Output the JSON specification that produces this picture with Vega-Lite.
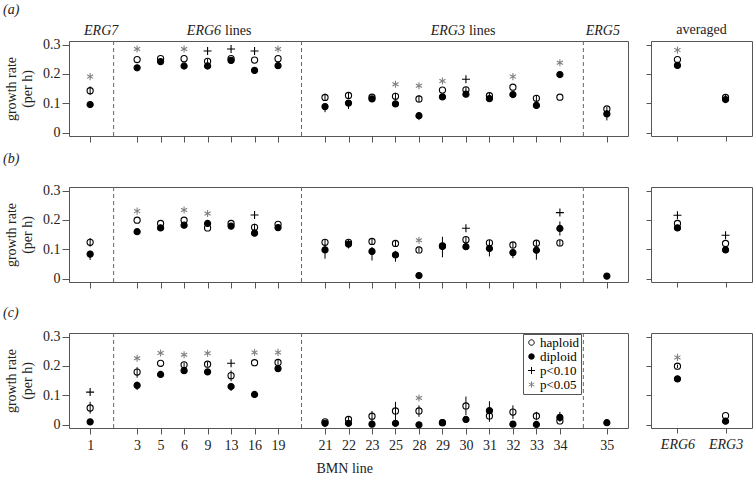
{
  "$schema": "https://vega.github.io/schema/vega-lite/v6.json",
  "padding": {"left": 2, "top": 2, "right": 0, "bottom": 0},
  "background": "white",
  "datasets": {
    "gaps": [{"line": "g1"}, {"line": "g2"}, {"line": "g3"}],
    "pts": [
      {"p":"a","line":"1","kind":"haploid","v":0.143,"lo":0.128,"hi":0.158},
      {"p":"a","line":"1","kind":"diploid","v":0.096},
      {"p":"a","line":"1","kind":"p<0.05","v":0.191},
      {"p":"a","line":"3","kind":"haploid","v":0.249},
      {"p":"a","line":"3","kind":"diploid","v":0.221},
      {"p":"a","line":"3","kind":"p<0.05","v":0.285},
      {"p":"a","line":"5","kind":"haploid","v":0.252},
      {"p":"a","line":"5","kind":"diploid","v":0.242},
      {"p":"a","line":"6","kind":"haploid","v":0.252},
      {"p":"a","line":"6","kind":"diploid","v":0.227},
      {"p":"a","line":"6","kind":"p<0.05","v":0.285},
      {"p":"a","line":"9","kind":"haploid","v":0.243,"lo":0.234,"hi":0.252},
      {"p":"a","line":"9","kind":"diploid","v":0.227},
      {"p":"a","line":"9","kind":"p<0.10","v":0.278},
      {"p":"a","line":"13","kind":"haploid","v":0.252},
      {"p":"a","line":"13","kind":"diploid","v":0.246},
      {"p":"a","line":"13","kind":"p<0.10","v":0.285},
      {"p":"a","line":"16","kind":"haploid","v":0.247},
      {"p":"a","line":"16","kind":"diploid","v":0.212,"lo":0.2,"hi":0.22},
      {"p":"a","line":"16","kind":"p<0.10","v":0.278},
      {"p":"a","line":"19","kind":"haploid","v":0.252},
      {"p":"a","line":"19","kind":"diploid","v":0.228},
      {"p":"a","line":"19","kind":"p<0.05","v":0.285},
      {"p":"a","line":"21","kind":"haploid","v":0.12,"lo":0.108,"hi":0.133},
      {"p":"a","line":"21","kind":"diploid","v":0.089,"lo":0.07,"hi":0.1},
      {"p":"a","line":"22","kind":"haploid","v":0.127,"lo":0.117,"hi":0.137},
      {"p":"a","line":"22","kind":"diploid","v":0.101,"lo":0.081,"hi":0.11},
      {"p":"a","line":"23","kind":"haploid","v":0.121},
      {"p":"a","line":"23","kind":"diploid","v":0.115},
      {"p":"a","line":"25","kind":"haploid","v":0.124,"lo":0.112,"hi":0.136},
      {"p":"a","line":"25","kind":"diploid","v":0.098},
      {"p":"a","line":"25","kind":"p<0.05","v":0.165},
      {"p":"a","line":"28","kind":"haploid","v":0.115,"lo":0.103,"hi":0.127},
      {"p":"a","line":"28","kind":"diploid","v":0.058,"lo":0.043,"hi":0.068},
      {"p":"a","line":"28","kind":"p<0.05","v":0.16},
      {"p":"a","line":"29","kind":"haploid","v":0.145},
      {"p":"a","line":"29","kind":"diploid","v":0.122},
      {"p":"a","line":"29","kind":"p<0.05","v":0.176},
      {"p":"a","line":"30","kind":"haploid","v":0.146,"lo":0.136,"hi":0.156},
      {"p":"a","line":"30","kind":"diploid","v":0.131},
      {"p":"a","line":"30","kind":"p<0.10","v":0.182},
      {"p":"a","line":"31","kind":"haploid","v":0.126,"lo":0.117,"hi":0.135},
      {"p":"a","line":"31","kind":"diploid","v":0.116},
      {"p":"a","line":"32","kind":"haploid","v":0.155},
      {"p":"a","line":"32","kind":"diploid","v":0.13},
      {"p":"a","line":"32","kind":"p<0.05","v":0.191},
      {"p":"a","line":"33","kind":"haploid","v":0.117,"lo":0.107,"hi":0.128},
      {"p":"a","line":"33","kind":"diploid","v":0.093},
      {"p":"a","line":"34","kind":"haploid","v":0.121},
      {"p":"a","line":"34","kind":"diploid","v":0.198},
      {"p":"a","line":"34","kind":"p<0.05","v":0.238},
      {"p":"a","line":"35","kind":"haploid","v":0.081,"lo":0.072,"hi":0.088},
      {"p":"a","line":"35","kind":"diploid","v":0.064,"lo":0.042,"hi":0.075},
      {"p":"a","line":"ERG6","kind":"haploid","v":0.249},
      {"p":"a","line":"ERG6","kind":"diploid","v":0.229},
      {"p":"a","line":"ERG6","kind":"p<0.05","v":0.281},
      {"p":"a","line":"ERG3","kind":"haploid","v":0.12,"lo":0.11,"hi":0.13},
      {"p":"a","line":"ERG3","kind":"diploid","v":0.113},

      {"p":"b","line":"1","kind":"haploid","v":0.124,"lo":0.109,"hi":0.139},
      {"p":"b","line":"1","kind":"diploid","v":0.084,"lo":0.064,"hi":0.095},
      {"p":"b","line":"3","kind":"haploid","v":0.199},
      {"p":"b","line":"3","kind":"diploid","v":0.16},
      {"p":"b","line":"3","kind":"p<0.05","v":0.23},
      {"p":"b","line":"5","kind":"haploid","v":0.188},
      {"p":"b","line":"5","kind":"diploid","v":0.173},
      {"p":"b","line":"6","kind":"haploid","v":0.199},
      {"p":"b","line":"6","kind":"diploid","v":0.182},
      {"p":"b","line":"6","kind":"p<0.05","v":0.234},
      {"p":"b","line":"9","kind":"haploid","v":0.173},
      {"p":"b","line":"9","kind":"diploid","v":0.188},
      {"p":"b","line":"9","kind":"p<0.05","v":0.222},
      {"p":"b","line":"13","kind":"haploid","v":0.188},
      {"p":"b","line":"13","kind":"diploid","v":0.179},
      {"p":"b","line":"16","kind":"haploid","v":0.175,"lo":0.163,"hi":0.187},
      {"p":"b","line":"16","kind":"diploid","v":0.155},
      {"p":"b","line":"16","kind":"p<0.10","v":0.217},
      {"p":"b","line":"19","kind":"haploid","v":0.185},
      {"p":"b","line":"19","kind":"diploid","v":0.174},
      {"p":"b","line":"21","kind":"haploid","v":0.124,"lo":0.114,"hi":0.134},
      {"p":"b","line":"21","kind":"diploid","v":0.098,"lo":0.068,"hi":0.112},
      {"p":"b","line":"22","kind":"haploid","v":0.124},
      {"p":"b","line":"22","kind":"diploid","v":0.118,"lo":0.103,"hi":0.133},
      {"p":"b","line":"23","kind":"haploid","v":0.127,"lo":0.117,"hi":0.137},
      {"p":"b","line":"23","kind":"diploid","v":0.093,"lo":0.062,"hi":0.108},
      {"p":"b","line":"25","kind":"haploid","v":0.12,"lo":0.11,"hi":0.13},
      {"p":"b","line":"25","kind":"diploid","v":0.081,"lo":0.058,"hi":0.095},
      {"p":"b","line":"28","kind":"haploid","v":0.098,"lo":0.09,"hi":0.106},
      {"p":"b","line":"28","kind":"diploid","v":0.011},
      {"p":"b","line":"28","kind":"p<0.05","v":0.131},
      {"p":"b","line":"29","kind":"haploid","v":0.112},
      {"p":"b","line":"29","kind":"diploid","v":0.11,"lo":0.073,"hi":0.143},
      {"p":"b","line":"30","kind":"haploid","v":0.133,"lo":0.123,"hi":0.143},
      {"p":"b","line":"30","kind":"diploid","v":0.109},
      {"p":"b","line":"30","kind":"p<0.10","v":0.172},
      {"p":"b","line":"31","kind":"haploid","v":0.122,"lo":0.112,"hi":0.132},
      {"p":"b","line":"31","kind":"diploid","v":0.103,"lo":0.076,"hi":0.117},
      {"p":"b","line":"32","kind":"haploid","v":0.115,"lo":0.105,"hi":0.125},
      {"p":"b","line":"32","kind":"diploid","v":0.089,"lo":0.07,"hi":0.103},
      {"p":"b","line":"33","kind":"haploid","v":0.121,"lo":0.111,"hi":0.131},
      {"p":"b","line":"33","kind":"diploid","v":0.097,"lo":0.065,"hi":0.112},
      {"p":"b","line":"34","kind":"haploid","v":0.122,"lo":0.112,"hi":0.132},
      {"p":"b","line":"34","kind":"diploid","v":0.171,"lo":0.147,"hi":0.195},
      {"p":"b","line":"34","kind":"p<0.10","v":0.225},
      {"p":"b","line":"35","kind":"diploid","v":0.009},
      {"p":"b","line":"ERG6","kind":"haploid","v":0.188},
      {"p":"b","line":"ERG6","kind":"diploid","v":0.173},
      {"p":"b","line":"ERG6","kind":"p<0.10","v":0.216},
      {"p":"b","line":"ERG3","kind":"haploid","v":0.12},
      {"p":"b","line":"ERG3","kind":"diploid","v":0.098},
      {"p":"b","line":"ERG3","kind":"p<0.10","v":0.148},

      {"p":"c","line":"1","kind":"haploid","v":0.057,"lo":0.038,"hi":0.078},
      {"p":"c","line":"1","kind":"diploid","v":0.01},
      {"p":"c","line":"1","kind":"p<0.10","v":0.111},
      {"p":"c","line":"3","kind":"haploid","v":0.179,"lo":0.16,"hi":0.196},
      {"p":"c","line":"3","kind":"diploid","v":0.134,"lo":0.118,"hi":0.147},
      {"p":"c","line":"3","kind":"p<0.05","v":0.226},
      {"p":"c","line":"5","kind":"haploid","v":0.209},
      {"p":"c","line":"5","kind":"diploid","v":0.171},
      {"p":"c","line":"5","kind":"p<0.05","v":0.244},
      {"p":"c","line":"6","kind":"haploid","v":0.204,"lo":0.196,"hi":0.212},
      {"p":"c","line":"6","kind":"diploid","v":0.184},
      {"p":"c","line":"6","kind":"p<0.05","v":0.238},
      {"p":"c","line":"9","kind":"haploid","v":0.206,"lo":0.198,"hi":0.214},
      {"p":"c","line":"9","kind":"diploid","v":0.18},
      {"p":"c","line":"9","kind":"p<0.05","v":0.243},
      {"p":"c","line":"13","kind":"haploid","v":0.167,"lo":0.148,"hi":0.185},
      {"p":"c","line":"13","kind":"diploid","v":0.13,"lo":0.115,"hi":0.14},
      {"p":"c","line":"13","kind":"p<0.10","v":0.209},
      {"p":"c","line":"16","kind":"haploid","v":0.211},
      {"p":"c","line":"16","kind":"diploid","v":0.103},
      {"p":"c","line":"16","kind":"p<0.05","v":0.246},
      {"p":"c","line":"19","kind":"haploid","v":0.212,"lo":0.204,"hi":0.22},
      {"p":"c","line":"19","kind":"diploid","v":0.191},
      {"p":"c","line":"19","kind":"p<0.05","v":0.246},
      {"p":"c","line":"21","kind":"haploid","v":0.01},
      {"p":"c","line":"21","kind":"diploid","v":0.005},
      {"p":"c","line":"22","kind":"haploid","v":0.018,"lo":0.01,"hi":0.026},
      {"p":"c","line":"22","kind":"diploid","v":0.005},
      {"p":"c","line":"23","kind":"haploid","v":0.029,"lo":0.01,"hi":0.047},
      {"p":"c","line":"23","kind":"diploid","v":0.002},
      {"p":"c","line":"25","kind":"haploid","v":0.047,"lo":0.016,"hi":0.078},
      {"p":"c","line":"25","kind":"diploid","v":0.005},
      {"p":"c","line":"28","kind":"haploid","v":0.047,"lo":0.027,"hi":0.066},
      {"p":"c","line":"28","kind":"diploid","v":0.0},
      {"p":"c","line":"28","kind":"p<0.05","v":0.091},
      {"p":"c","line":"29","kind":"haploid","v":0.007},
      {"p":"c","line":"29","kind":"diploid","v":0.007},
      {"p":"c","line":"30","kind":"haploid","v":0.064,"lo":0.033,"hi":0.096},
      {"p":"c","line":"30","kind":"diploid","v":0.018},
      {"p":"c","line":"31","kind":"haploid","v":0.03,"lo":0.01,"hi":0.05},
      {"p":"c","line":"31","kind":"diploid","v":0.048,"lo":0.02,"hi":0.08},
      {"p":"c","line":"32","kind":"haploid","v":0.043,"lo":0.02,"hi":0.066},
      {"p":"c","line":"32","kind":"diploid","v":0.002},
      {"p":"c","line":"33","kind":"haploid","v":0.03,"lo":0.016,"hi":0.044},
      {"p":"c","line":"33","kind":"diploid","v":0.001},
      {"p":"c","line":"34","kind":"haploid","v":0.013},
      {"p":"c","line":"34","kind":"diploid","v":0.025,"lo":0.01,"hi":0.044},
      {"p":"c","line":"35","kind":"diploid","v":0.007},
      {"p":"c","line":"ERG6","kind":"haploid","v":0.199,"lo":0.193,"hi":0.205},
      {"p":"c","line":"ERG6","kind":"diploid","v":0.156,"lo":0.15,"hi":0.162},
      {"p":"c","line":"ERG6","kind":"p<0.05","v":0.229},
      {"p":"c","line":"ERG3","kind":"haploid","v":0.031},
      {"p":"c","line":"ERG3","kind":"diploid","v":0.012}
    ]
  },
  "concat": [
    {
      "width": 559, "height": 95,
      "title": {"text": "(a)", "anchor": "start", "frame": "group", "dx": -66, "offset": 7, "fontStyle": "italic"},
      "encoding": {"x": {"field": "line", "type": "ordinal",
        "scale": {"type": "point", "padding": 0.9, "domain": ["1","g1","3","5","6","9","13","16","19","g2","21","22","23","25","28","29","30","31","32","33","34","g3","35"]},
        "axis": {"values": ["1","3","5","6","9","13","16","19","21","22","23","25","28","29","30","31","32","33","34","35"], "labels": false, "tickSize": 6, "title": null}}},
      "layer": [
        {"data": {"name": "gaps"}, "mark": {"type": "rule", "strokeDash": [4, 3], "color": "#666", "strokeWidth": 1}, "encoding": {}},
        {"data": {"name": "pts"}, "transform": [{"filter": "datum.p=='a' && datum.line!='ERG6' && datum.line!='ERG3' && isValid(datum.lo)"}],
         "mark": {"type": "rule", "color": "black", "strokeWidth": 1},
         "encoding": {"y": {"field": "lo", "type": "quantitative", "scale": {"domain": [-0.011, 0.312], "nice": false, "zero": false},
                 "axis": {"values": [0, 0.1, 0.2, 0.3], "labelExpr": "datum.value == 0 ? '0' : format(datum.value, '.1f')", "tickSize": 7, "labelPadding": 2, "title": ["growth rate", "(per h)"], "titlePadding": 8, "titleLineHeight": 16}}, "y2": {"field": "hi"}}},
        {"data": {"name": "pts"}, "transform": [{"filter": "datum.p=='a' && datum.line!='ERG6' && datum.line!='ERG3'"}],
         "mark": {"type": "point", "opacity": 1, "strokeWidth": 1.1, "size": 38},
         "encoding": {
           "y": {"field": "v", "type": "quantitative", "scale": {"domain": [-0.011, 0.312], "nice": false, "zero": false},
                 "axis": {"values": [0, 0.1, 0.2, 0.3], "labelExpr": "datum.value == 0 ? '0' : format(datum.value, '.1f')", "tickSize": 7, "labelPadding": 2, "title": ["growth rate", "(per h)"], "titlePadding": 8, "titleLineHeight": 16}},
           "shape": {"field": "kind", "type": "nominal", "scale": {"domain": ["haploid","diploid","p<0.10","p<0.05"], "range": ["M-1,0A1,1 0 1,0 1,0A1,1 0 1,0 -1,0Z", "circle", "M-1.3,0L1.3,0M0,-1.3L0,1.3", "M0,-1.15L0,1.15M-1,-0.575L1,0.575M-1,0.575L1,-0.575"]}, "legend": null},
           "fill": {"field": "kind", "type": "nominal", "scale": {"domain": ["haploid","diploid","p<0.10","p<0.05"], "range": ["transparent","black","transparent","transparent"]}, "legend": null},
           "stroke": {"field": "kind", "type": "nominal", "scale": {"domain": ["haploid","diploid","p<0.10","p<0.05"], "range": ["black","black","black","#808080"]}, "legend": null}
         }},
        {"data": {"values": [{"lab": "ERG7", "line": "1"}]}, "mark": {"type": "text", "fontStyle": "italic", "fontSize": 14, "align": "center", "baseline": "alphabetic", "dx": 11, "color": "#222"},
         "encoding": {"text": {"field": "lab"}, "y": {"datum": 0.333, "type": "quantitative", "scale": {"domain": [-0.011, 0.312], "nice": false, "zero": false},
                 "axis": {"values": [0, 0.1, 0.2, 0.3], "labelExpr": "datum.value == 0 ? '0' : format(datum.value, '.1f')", "tickSize": 7, "labelPadding": 2, "title": ["growth rate", "(per h)"], "titlePadding": 8, "titleLineHeight": 16}}}},
        {"data": {"values": [{"lab": "ERG6", "line": "13"}]}, "mark": {"type": "text", "fontStyle": "italic", "fontSize": 14, "align": "right", "baseline": "alphabetic", "dx": -10, "color": "#222"},
         "encoding": {"text": {"field": "lab"}, "y": {"datum": 0.333, "type": "quantitative", "scale": {"domain": [-0.011, 0.312], "nice": false, "zero": false},
                 "axis": {"values": [0, 0.1, 0.2, 0.3], "labelExpr": "datum.value == 0 ? '0' : format(datum.value, '.1f')", "tickSize": 7, "labelPadding": 2, "title": ["growth rate", "(per h)"], "titlePadding": 8, "titleLineHeight": 16}}}},
        {"data": {"values": [{"lab": "lines", "line": "13"}]}, "mark": {"type": "text", "fontSize": 14, "align": "left", "baseline": "alphabetic", "dx": -6, "color": "#222"},
         "encoding": {"text": {"field": "lab"}, "y": {"datum": 0.333, "type": "quantitative", "scale": {"domain": [-0.011, 0.312], "nice": false, "zero": false},
                 "axis": {"values": [0, 0.1, 0.2, 0.3], "labelExpr": "datum.value == 0 ? '0' : format(datum.value, '.1f')", "tickSize": 7, "labelPadding": 2, "title": ["growth rate", "(per h)"], "titlePadding": 8, "titleLineHeight": 16}}}},
        {"data": {"values": [{"lab": "ERG3", "line": "30"}]}, "mark": {"type": "text", "fontStyle": "italic", "fontSize": 14, "align": "right", "baseline": "alphabetic", "dx": -1, "color": "#222"},
         "encoding": {"text": {"field": "lab"}, "y": {"datum": 0.333, "type": "quantitative", "scale": {"domain": [-0.011, 0.312], "nice": false, "zero": false},
                 "axis": {"values": [0, 0.1, 0.2, 0.3], "labelExpr": "datum.value == 0 ? '0' : format(datum.value, '.1f')", "tickSize": 7, "labelPadding": 2, "title": ["growth rate", "(per h)"], "titlePadding": 8, "titleLineHeight": 16}}}},
        {"data": {"values": [{"lab": "lines", "line": "30"}]}, "mark": {"type": "text", "fontSize": 14, "align": "left", "baseline": "alphabetic", "dx": 3, "color": "#222"},
         "encoding": {"text": {"field": "lab"}, "y": {"datum": 0.333, "type": "quantitative", "scale": {"domain": [-0.011, 0.312], "nice": false, "zero": false},
                 "axis": {"values": [0, 0.1, 0.2, 0.3], "labelExpr": "datum.value == 0 ? '0' : format(datum.value, '.1f')", "tickSize": 7, "labelPadding": 2, "title": ["growth rate", "(per h)"], "titlePadding": 8, "titleLineHeight": 16}}}},
        {"data": {"values": [{"lab": "ERG5", "line": "35"}]}, "mark": {"type": "text", "fontStyle": "italic", "fontSize": 14, "align": "center", "baseline": "alphabetic", "dx": -4, "color": "#222"},
         "encoding": {"text": {"field": "lab"}, "y": {"datum": 0.333, "type": "quantitative", "scale": {"domain": [-0.011, 0.312], "nice": false, "zero": false},
                 "axis": {"values": [0, 0.1, 0.2, 0.3], "labelExpr": "datum.value == 0 ? '0' : format(datum.value, '.1f')", "tickSize": 7, "labelPadding": 2, "title": ["growth rate", "(per h)"], "titlePadding": 8, "titleLineHeight": 16}}}}
      ]
    },
    {
      "width": 101, "height": 95,
      "title": {"text": "averaged", "anchor": "middle", "frame": "group", "offset": 4},
      "encoding": {"x": {"field": "line", "type": "ordinal", "scale": {"type": "point", "padding": 0.55, "domain": ["ERG6", "ERG3"]}, "axis": {"labels": false, "tickSize": 5, "title": null}}},
      "transform": [{"filter": "datum.p=='a' && (datum.line=='ERG6' || datum.line=='ERG3')"}],
      "data": {"name": "pts"},
      "layer": [
        {"transform": [{"filter": "isValid(datum.lo)"}], "mark": {"type": "rule", "color": "black", "strokeWidth": 1},
         "encoding": {"y": {"field": "lo", "type": "quantitative", "scale": {"domain": [-0.011, 0.312], "nice": false, "zero": false}, "axis": {"values": [0, 0.1, 0.2, 0.3], "labels": false, "tickSize": 5, "title": null}}, "y2": {"field": "hi"}}},
        {"mark": {"type": "point", "opacity": 1, "strokeWidth": 1.1, "size": 38},
         "encoding": {
           "y": {"field": "v", "type": "quantitative", "scale": {"domain": [-0.011, 0.312], "nice": false, "zero": false}, "axis": {"values": [0, 0.1, 0.2, 0.3], "labels": false, "tickSize": 5, "title": null}},
           "shape": {"field": "kind", "type": "nominal", "scale": {"domain": ["haploid","diploid","p<0.10","p<0.05"], "range": ["M-1,0A1,1 0 1,0 1,0A1,1 0 1,0 -1,0Z", "circle", "M-1.3,0L1.3,0M0,-1.3L0,1.3", "M0,-1.15L0,1.15M-1,-0.575L1,0.575M-1,0.575L1,-0.575"]}, "legend": null},
           "fill": {"field": "kind", "type": "nominal", "scale": {"domain": ["haploid","diploid","p<0.10","p<0.05"], "range": ["transparent","black","transparent","transparent"]}, "legend": null},
           "stroke": {"field": "kind", "type": "nominal", "scale": {"domain": ["haploid","diploid","p<0.10","p<0.05"], "range": ["black","black","black","#808080"]}, "legend": null}
         }}
      ]
    },
    {
      "width": 559, "height": 95,
      "title": {"text": "(b)", "anchor": "start", "frame": "group", "dx": -66, "offset": 18, "fontStyle": "italic"},
      "encoding": {"x": {"field": "line", "type": "ordinal",
        "scale": {"type": "point", "padding": 0.9, "domain": ["1","g1","3","5","6","9","13","16","19","g2","21","22","23","25","28","29","30","31","32","33","34","g3","35"]},
        "axis": {"values": ["1","3","5","6","9","13","16","19","21","22","23","25","28","29","30","31","32","33","34","35"], "labels": false, "tickSize": 6, "title": null}}},
      "layer": [
        {"data": {"name": "gaps"}, "mark": {"type": "rule", "strokeDash": [4, 3], "color": "#666", "strokeWidth": 1}, "encoding": {}},
        {"data": {"name": "pts"}, "transform": [{"filter": "datum.p=='b' && datum.line!='ERG6' && datum.line!='ERG3' && isValid(datum.lo)"}],
         "mark": {"type": "rule", "color": "black", "strokeWidth": 1},
         "encoding": {"y": {"field": "lo", "type": "quantitative", "scale": {"domain": [-0.011, 0.312], "nice": false, "zero": false},
                 "axis": {"values": [0, 0.1, 0.2, 0.3], "labelExpr": "datum.value == 0 ? '0' : format(datum.value, '.1f')", "tickSize": 7, "labelPadding": 2, "title": ["growth rate", "(per h)"], "titlePadding": 8, "titleLineHeight": 16}}, "y2": {"field": "hi"}}},
        {"data": {"name": "pts"}, "transform": [{"filter": "datum.p=='b' && datum.line!='ERG6' && datum.line!='ERG3'"}],
         "mark": {"type": "point", "opacity": 1, "strokeWidth": 1.1, "size": 38},
         "encoding": {
           "y": {"field": "v", "type": "quantitative", "scale": {"domain": [-0.011, 0.312], "nice": false, "zero": false},
                 "axis": {"values": [0, 0.1, 0.2, 0.3], "labelExpr": "datum.value == 0 ? '0' : format(datum.value, '.1f')", "tickSize": 7, "labelPadding": 2, "title": ["growth rate", "(per h)"], "titlePadding": 8, "titleLineHeight": 16}},
           "shape": {"field": "kind", "type": "nominal", "scale": {"domain": ["haploid","diploid","p<0.10","p<0.05"], "range": ["M-1,0A1,1 0 1,0 1,0A1,1 0 1,0 -1,0Z", "circle", "M-1.3,0L1.3,0M0,-1.3L0,1.3", "M0,-1.15L0,1.15M-1,-0.575L1,0.575M-1,0.575L1,-0.575"]}, "legend": null},
           "fill": {"field": "kind", "type": "nominal", "scale": {"domain": ["haploid","diploid","p<0.10","p<0.05"], "range": ["transparent","black","transparent","transparent"]}, "legend": null},
           "stroke": {"field": "kind", "type": "nominal", "scale": {"domain": ["haploid","diploid","p<0.10","p<0.05"], "range": ["black","black","black","#808080"]}, "legend": null}
         }}
      ]
    },
    {
      "width": 101, "height": 95,
      "encoding": {"x": {"field": "line", "type": "ordinal", "scale": {"type": "point", "padding": 0.55, "domain": ["ERG6", "ERG3"]}, "axis": {"labels": false, "tickSize": 5, "title": null}}},
      "transform": [{"filter": "datum.p=='b' && (datum.line=='ERG6' || datum.line=='ERG3')"}],
      "data": {"name": "pts"},
      "layer": [
        {"transform": [{"filter": "isValid(datum.lo)"}], "mark": {"type": "rule", "color": "black", "strokeWidth": 1},
         "encoding": {"y": {"field": "lo", "type": "quantitative", "scale": {"domain": [-0.011, 0.312], "nice": false, "zero": false}, "axis": {"values": [0, 0.1, 0.2, 0.3], "labels": false, "tickSize": 5, "title": null}}, "y2": {"field": "hi"}}},
        {"mark": {"type": "point", "opacity": 1, "strokeWidth": 1.1, "size": 38},
         "encoding": {
           "y": {"field": "v", "type": "quantitative", "scale": {"domain": [-0.011, 0.312], "nice": false, "zero": false}, "axis": {"values": [0, 0.1, 0.2, 0.3], "labels": false, "tickSize": 5, "title": null}},
           "shape": {"field": "kind", "type": "nominal", "scale": {"domain": ["haploid","diploid","p<0.10","p<0.05"], "range": ["M-1,0A1,1 0 1,0 1,0A1,1 0 1,0 -1,0Z", "circle", "M-1.3,0L1.3,0M0,-1.3L0,1.3", "M0,-1.15L0,1.15M-1,-0.575L1,0.575M-1,0.575L1,-0.575"]}, "legend": null},
           "fill": {"field": "kind", "type": "nominal", "scale": {"domain": ["haploid","diploid","p<0.10","p<0.05"], "range": ["transparent","black","transparent","transparent"]}, "legend": null},
           "stroke": {"field": "kind", "type": "nominal", "scale": {"domain": ["haploid","diploid","p<0.10","p<0.05"], "range": ["black","black","black","#808080"]}, "legend": null}
         }}
      ]
    },
    {
      "width": 559, "height": 95,
      "title": {"text": "(c)", "anchor": "start", "frame": "group", "dx": -66, "offset": 10, "fontStyle": "italic"},
      "encoding": {"x": {"field": "line", "type": "ordinal",
        "scale": {"type": "point", "padding": 0.9, "domain": ["1","g1","3","5","6","9","13","16","19","g2","21","22","23","25","28","29","30","31","32","33","34","g3","35"]},
        "axis": {"values": ["1","3","5","6","9","13","16","19","21","22","23","25","28","29","30","31","32","33","34","35"], "labels": true, "labelAngle": 0, "labelPadding": 4, "tickSize": 6, "title": "BMN line", "titleX": 247, "titleY": 44, "titleAlign": "left", "titleBaseline": "alphabetic"}}},
      "layer": [
        {"data": {"name": "gaps"}, "mark": {"type": "rule", "strokeDash": [4, 3], "color": "#666", "strokeWidth": 1}, "encoding": {}},
        {"data": {"name": "pts"}, "transform": [{"filter": "datum.p=='c' && datum.line!='ERG6' && datum.line!='ERG3' && isValid(datum.lo)"}],
         "mark": {"type": "rule", "color": "black", "strokeWidth": 1},
         "encoding": {"y": {"field": "lo", "type": "quantitative", "scale": {"domain": [-0.011, 0.312], "nice": false, "zero": false},
                 "axis": {"values": [0, 0.1, 0.2, 0.3], "labelExpr": "datum.value == 0 ? '0' : format(datum.value, '.1f')", "tickSize": 7, "labelPadding": 2, "title": ["growth rate", "(per h)"], "titlePadding": 8, "titleLineHeight": 16}}, "y2": {"field": "hi"}}},
        {"data": {"name": "pts"}, "transform": [{"filter": "datum.p=='c' && datum.line!='ERG6' && datum.line!='ERG3'"}],
         "mark": {"type": "point", "opacity": 1, "strokeWidth": 1.1, "size": 38},
         "encoding": {
           "y": {"field": "v", "type": "quantitative", "scale": {"domain": [-0.011, 0.312], "nice": false, "zero": false},
                 "axis": {"values": [0, 0.1, 0.2, 0.3], "labelExpr": "datum.value == 0 ? '0' : format(datum.value, '.1f')", "tickSize": 7, "labelPadding": 2, "title": ["growth rate", "(per h)"], "titlePadding": 8, "titleLineHeight": 16}},
           "shape": {"field": "kind", "type": "nominal", "scale": {"domain": ["haploid","diploid","p<0.10","p<0.05"], "range": ["M-1,0A1,1 0 1,0 1,0A1,1 0 1,0 -1,0Z", "circle", "M-1.3,0L1.3,0M0,-1.3L0,1.3", "M0,-1.15L0,1.15M-1,-0.575L1,0.575M-1,0.575L1,-0.575"]},
                     "legend": {"orient": "none", "legendX": 454, "legendY": 1, "title": null, "padding": 2, "strokeColor": "#555", "fillColor": "white", "labelFontSize": 13, "labelFont": "Liberation Serif", "rowPadding": 0, "labelOffset": 2, "symbolSize": 30, "symbolStrokeWidth": 1}},
           "fill": {"field": "kind", "type": "nominal", "scale": {"domain": ["haploid","diploid","p<0.10","p<0.05"], "range": ["transparent","black","transparent","transparent"]}},
           "stroke": {"field": "kind", "type": "nominal", "scale": {"domain": ["haploid","diploid","p<0.10","p<0.05"], "range": ["black","black","black","#808080"]}}
         }}
      ]
    },
    {
      "width": 101, "height": 95,
      "encoding": {"x": {"field": "line", "type": "ordinal", "scale": {"type": "point", "padding": 0.55, "domain": ["ERG6", "ERG3"]}, "axis": {"labels": true, "labelAngle": 0, "labelPadding": 4, "labelFontStyle": "italic", "tickSize": 5, "title": null}}},
      "transform": [{"filter": "datum.p=='c' && (datum.line=='ERG6' || datum.line=='ERG3')"}],
      "data": {"name": "pts"},
      "layer": [
        {"transform": [{"filter": "isValid(datum.lo)"}], "mark": {"type": "rule", "color": "black", "strokeWidth": 1},
         "encoding": {"y": {"field": "lo", "type": "quantitative", "scale": {"domain": [-0.011, 0.312], "nice": false, "zero": false}, "axis": {"values": [0, 0.1, 0.2, 0.3], "labels": false, "tickSize": 5, "title": null}}, "y2": {"field": "hi"}}},
        {"mark": {"type": "point", "opacity": 1, "strokeWidth": 1.1, "size": 38},
         "encoding": {
           "y": {"field": "v", "type": "quantitative", "scale": {"domain": [-0.011, 0.312], "nice": false, "zero": false}, "axis": {"values": [0, 0.1, 0.2, 0.3], "labels": false, "tickSize": 5, "title": null}},
           "shape": {"field": "kind", "type": "nominal", "scale": {"domain": ["haploid","diploid","p<0.10","p<0.05"], "range": ["M-1,0A1,1 0 1,0 1,0A1,1 0 1,0 -1,0Z", "circle", "M-1.3,0L1.3,0M0,-1.3L0,1.3", "M0,-1.15L0,1.15M-1,-0.575L1,0.575M-1,0.575L1,-0.575"]}, "legend": null},
           "fill": {"field": "kind", "type": "nominal", "scale": {"domain": ["haploid","diploid","p<0.10","p<0.05"], "range": ["transparent","black","transparent","transparent"]}, "legend": null},
           "stroke": {"field": "kind", "type": "nominal", "scale": {"domain": ["haploid","diploid","p<0.10","p<0.05"], "range": ["black","black","black","#808080"]}, "legend": null}
         }}
      ]
    }
  ],
  "columns": 2,
  "spacing": {"row": 51, "column": 23},
  "bounds": "flush",
  "resolve": {
    "scale": {"shape": "independent", "fill": "independent", "stroke": "independent"},
    "legend": {"shape": "independent", "fill": "independent", "stroke": "independent"}
  },
  "config": {
    "font": "Liberation Serif",
    "view": {"stroke": "#555", "strokeWidth": 1},
    "axis": {"domain": false, "grid": false, "tickColor": "#555", "labelFont": "Liberation Serif", "labelFontSize": 14, "labelColor": "#222", "titleFont": "Liberation Serif", "titleFontSize": 14, "titleFontWeight": "normal", "titleColor": "#222"},
    "title": {"font": "Liberation Serif", "fontSize": 14, "fontWeight": "normal", "color": "#222", "baseline": "alphabetic"},
    "text": {"font": "Liberation Serif"}
  }
}
